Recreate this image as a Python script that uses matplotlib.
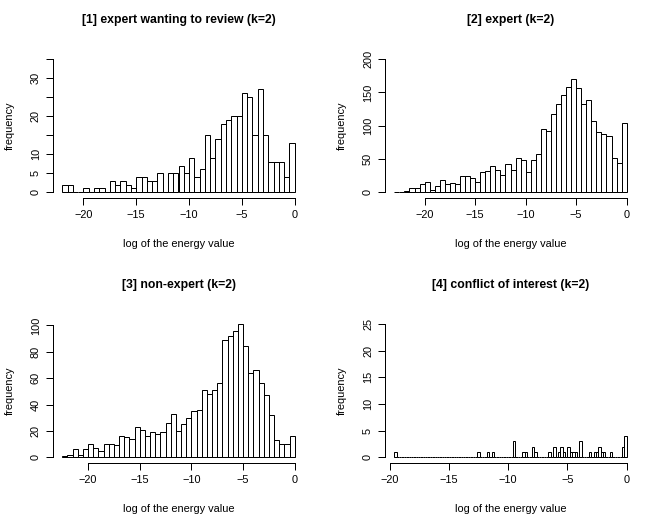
import numpy as np
import matplotlib
matplotlib.use("Agg")
import matplotlib.pyplot as plt

plt.rcParams['font.family'] = ['Liberation Sans', 'DejaVu Sans']

# ---------------- data ----------------
titles = ["[1] expert wanting to review (k=2)", "[2] expert (k=2)",
          "[3] non-expert (k=2)", "[4] conflict of interest (k=2)"]
xlabel_text = "log of the energy value"
ylabel_text = "frequency"

# panel 1: bins of 0.5 from -22 to 0
p1_start, p1_width = -22.0, 0.5
p1_counts = [2, 2, 0, 0, 1, 0, 1, 1, 0, 3, 2, 3, 2, 1, 4, 4, 3, 3, 5, 0,
             5, 5, 7, 5, 9, 4, 6, 15, 9, 14, 18, 19, 20, 20, 26, 25, 15, 27, 15, 8,
             8, 8, 4, 13]
# panel 2: bins of 0.5 from -23 to 0
p2_start, p2_width = -23.0, 0.5
p2_counts = [1, 1, 2, 7, 7, 13, 15, 4, 10, 18, 13, 14, 12, 25, 24, 22, 16, 30, 32, 39,
             34, 26, 42, 34, 52, 48, 31, 48, 58, 95, 92, 118, 133, 146, 158, 170, 156, 132, 138, 107,
             91, 88, 84, 51, 44, 104]
# panel 3: bins of 0.5 from -22.5 to 0
p3_start, p3_width = -22.5, 0.5
p3_counts = [1, 2, 6, 2, 6, 10, 7, 5, 10, 10, 9, 16, 15, 14, 23, 21, 16, 19, 18, 19,
             26, 33, 20, 25, 30, 35, 36, 51, 48, 51, 56, 89, 92, 96, 101, 84, 64, 66, 56, 47,
             32, 13, 10, 10, 16]
# panel 4: bins of 0.2 from -19.6 to 0 (non-empty bins listed by left edge)
p4_start, p4_width, p4_nbins = -19.6, 0.2, 98
p4_left_edges = [-19.6, -12.6, -11.8, -11.4, -9.6, -8.8, -8.6, -8.0, -7.8, -6.6,
                 -6.2, -5.8, -5.6, -5.4, -5.0, -4.8, -4.6, -4.4, -4.0, -3.2,
                 -2.8, -2.6, -2.4, -2.2, -2.0, -1.4, -0.4, -0.2]
p4_counts_nz = [1, 1, 1, 1, 3, 1, 1, 2, 1, 1,
                2, 1, 2, 1, 2, 1, 1, 1, 3, 1,
                1, 1, 2, 1, 1, 1, 2, 4]

x_ticks = [-20, -15, -10, -5, 0]
y_ticks = [[0, 5, 10, 15, 20, 25, 30, 35], [0, 50, 100, 150, 200],
           [0, 20, 40, 60, 80, 100], [0, 5, 10, 15, 20, 25]]
y_ticklabels = [["0", "5", "10", "", "20", "", "30", ""],
                ["0", "50", "100", "150", "200"],
                ["0", "20", "40", "60", "80", "100"],
                ["0", "5", "10", "15", "20", "25"]]
y_max = [35, 200, 101, 25]

# build panel 4 full counts
p4_counts = np.zeros(p4_nbins)
for e, c in zip(p4_left_edges, p4_counts_nz):
    p4_counts[int(round((e - p4_start) / p4_width))] = c

panels = [(p1_start, p1_width, np.array(p1_counts, float)),
          (p2_start, p2_width, np.array(p2_counts, float)),
          (p3_start, p3_width, np.array(p3_counts, float)),
          (p4_start, p4_width, p4_counts)]

# ---------------- layout ----------------
W, H = 664, 530
fig = plt.figure(figsize=(W / 100, H / 100), dpi=100)
fig.patch.set_facecolor("white")

PX = 0.72  # points per pixel
fs_tick = 11 * PX
fs_lab = 11 * PX
fs_title = 12.3 * PX
lw = 1.0 * PX

L, R, T, B = 53.0, 304.0, 53.7, 197.6

for k, (start, width, counts) in enumerate(panels):
    col, row = k % 2, k // 2
    ox, oy = 332 * col, 265 * row
    left, right = ox + L, ox + R
    top, bottom = oy + T, oy + B
    ax = fig.add_axes([left / W, 1 - bottom / H, (right - left) / W, (bottom - top) / H])
    n = len(counts)
    lefts = start + width * np.arange(n)
    lo, hi = start, start + width * n
    ax.bar(lefts, counts, width=width, align="edge", fill=False,
           edgecolor="black", linewidth=lw)
    ext = 0.04 * (hi - lo)
    ax.set_xlim(lo - ext, hi + ext)
    ym = y_max[k]
    ax.set_ylim(-0.04 * ym, ym * 1.04)

    for s in ("top", "right"):
        ax.spines[s].set_visible(False)
    ax.spines["left"].set_bounds(y_ticks[k][0], y_ticks[k][-1])
    ax.spines["bottom"].set_bounds(x_ticks[0], x_ticks[-1])
    for s in ("left", "bottom"):
        ax.spines[s].set_linewidth(lw)
        ax.spines[s].set_color("black")
    ax.set_xticks(x_ticks)
    ax.set_xticklabels([str(v) if v == 0 else "\u2212" + str(-v) for v in x_ticks],
                       fontsize=fs_tick)
    ax.set_yticks(y_ticks[k])
    ax.set_yticklabels(y_ticklabels[k], fontsize=fs_tick, rotation=90, va="center")
    ax.tick_params(axis="both", direction="out", length=7 * PX, width=lw, color="black")
    ax.tick_params(axis="x", pad=5 * PX)
    ax.tick_params(axis="y", pad=5 * PX)
    ax.patch.set_alpha(0)

    cx = (left + right) / 2
    fig.text(cx / W, 1 - (oy + 20) / H, titles[k], ha="center", va="center",
             fontsize=fs_title, fontweight="bold")
    fig.text(cx / W, 1 - (oy + 244) / H, xlabel_text, ha="center", va="center",
             fontsize=fs_lab)
    fig.text((ox + 9.5) / W, 1 - ((top + bottom) / 2) / H, ylabel_text, ha="center",
             va="center", rotation=90, fontsize=fs_lab)

fig.savefig("out.png", dpi=100, facecolor="white")
